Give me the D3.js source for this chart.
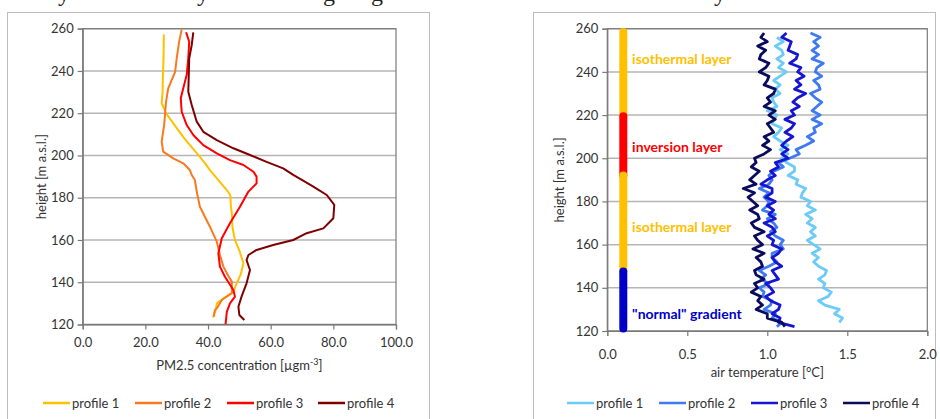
<!DOCTYPE html>
<html>
<head>
<meta charset="utf-8">
<script src="https://cdn.jsdelivr.net/npm/d3@7"></script>
<style>
  html, body { margin: 0; padding: 0; background: #fff; }
  svg { display: block; font-family: Lato, "Open Sans", sans-serif; }
  .tick text { font-family: Lato, sans-serif; font-size: 13px; fill: #333; }
</style>
</head>
<body>
<script>
// ---- data ----
// left panel: PM2.5 profiles (height [m], concentration)
const pmSeries = ["profile 1", "profile 2", "profile 3", "profile 4"];
const pmColors = ["#FFC000", "#F97A1E", "#FF0000", "#7F0000"];

const pm1Height = [257.3, 246, 238, 230, 224.8, 220, 214, 208, 203, 200, 196, 193.1, 188, 184, 181.3, 176, 172.6, 166, 160, 155, 149, 144, 140, 135.5, 133, 130, 127, 123.7, 124.5];
const pm1Value  = [25.9, 25.8, 25.6, 25.5, 25.2, 26.6, 29.5, 32.5, 35.3, 37.0, 39.2, 40.6, 43.5, 45.8, 47.1, 47.3, 47.6, 47.8, 48.6, 50.0, 51.3, 50.5, 49.3, 48.1, 45.5, 42.8, 42.5, 41.7, 42.2];

const pm2Height = [259.7, 254, 246, 239.6, 231.8, 225.4, 214.4, 206.5, 201.8, 198.6, 196.3, 193.1, 190.8, 188.4, 182.9, 175.7, 166.3, 159.2, 153, 147.4, 143, 140.3, 134.8, 131.6, 128, 126.9, 123.7];
const pm2Value  = [31.6, 30.8, 30.0, 29.5, 27.3, 26.6, 26.0, 25.2, 25.7, 28.9, 32.1, 34.2, 34.8, 35.8, 36.4, 37.4, 40.6, 42.8, 43.8, 44.9, 46.5, 47.6, 47.6, 44.4, 43.0, 42.2, 41.8];

const pm3Height = [258.3, 253.8, 246, 238.2, 231.8, 227.1, 220.7, 214.4, 209.7, 204.9, 201, 197.8, 195.5, 192.3, 190, 186.8, 182.9, 175.7, 167.9, 160.8, 153.7, 147.4, 142.6, 136.3, 133.2, 130, 126, 120.2];
const pm3Value  = [33.0, 34.0, 33.7, 33.2, 32.1, 31.3, 31.6, 33.2, 35.3, 38.5, 42.8, 47.0, 51.3, 54.5, 55.5, 55.5, 52.9, 50.2, 47.0, 44.4, 43.3, 43.8, 45.4, 48.1, 48.6, 47.0, 46.0, 45.6];

const pm4Height = [258.3, 252.3, 246, 230.2, 223.9, 216, 211.2, 207.3, 203.4, 200.2, 197, 193.9, 190.8, 188, 185.3, 181.3, 176.6, 170.3, 165.5, 163.2, 160, 157.6, 155.3, 152.9, 150.5, 145.8, 139.5, 133.2, 128.4, 124.5, 122.1];
const pm4Value  = [35.3, 34.8, 34.0, 33.7, 34.8, 36.4, 38.5, 42.8, 48.1, 53.4, 58.7, 64.0, 67.2, 70.5, 73.6, 77.9, 80.3, 80.0, 76.8, 71.5, 67.2, 60.8, 55.5, 52.9, 52.3, 53.4, 52.3, 50.7, 49.7, 50.0, 51.6];

// right panel: air temperature profiles
const tSeries = ["profile 1", "profile 2", "profile 3", "profile 4"];
const tColors = ["#6DCBF7", "#3F7AF2", "#1616D0", "#0B0B5E"];

const tHeight = [122, 124, 126, 128, 130, 132, 134, 136, 138, 140, 142, 144, 146, 148, 150, 152, 154, 156, 158, 160,
  162, 164, 166, 168, 170, 172, 174, 176, 178, 180, 182, 184, 186, 188, 190, 192, 194, 196, 198, 200,
  202, 204, 206, 208, 210, 212, 214, 216, 218, 220, 222, 224, 226, 228, 230, 232, 234, 236, 238, 240,
  242, 244, 246, 248, 250, 252, 254, 256, 258];

const t1Value = [null, 1.45, 1.47, 1.42, 1.45, 1.36, 1.32, 1.38, 1.40, 1.35, 1.36, 1.32, 1.36, 1.37, 1.32, 1.29, 1.32, 1.28, 1.33, 1.29,
  1.25, 1.30, 1.27, 1.30, 1.25, 1.28, 1.24, 1.30, 1.25, 1.27, 1.21, 1.22, 1.24, 1.18, 1.19, 1.13, 1.17, 1.17, 1.12, 1.09,
  1.13, 1.08, 1.13, 1.08, 1.04, 1.07, 1.09, 1.03, 1.04, 1.06, 1.00, 1.06, 1.04, 1.03, 1.08, 1.05, 1.08, 1.04, 1.08, 1.12,
  1.07, 1.10, 1.06, 1.10, 1.09, 1.05, 1.10, 1.06, null];

const t2Value = [1.06, 1.09, 1.03, 1.05, 0.98, 1.02, 1.03, 0.97, 0.98, 0.95, 1.01, 0.96, 0.99, 0.95, 1.01, 1.06, 1.03, 1.03, 1.10, 1.08,
  1.10, 1.05, 1.02, 1.06, 1.04, 1.00, 1.05, 0.97, 1.00, 1.01, 0.98, 1.01, 0.95, 1.01, 1.03, 1.01, 1.04, 1.10, 1.07, 1.14,
  1.20, 1.18, 1.24, 1.29, 1.25, 1.30, 1.29, 1.34, 1.28, 1.33, 1.28, 1.31, 1.34, 1.30, 1.27, 1.33, 1.32, 1.29, 1.34, 1.30,
  1.31, 1.35, 1.28, 1.32, 1.28, 1.32, 1.29, 1.33, 1.27];

const t3Value = [1.17, 1.07, 1.08, 1.03, 1.07, 1.08, 1.02, 0.99, 1.04, 1.02, 0.99, 1.07, 1.05, 1.03, 1.09, 1.05, 1.03, 1.07, 1.09, 1.03,
  1.04, 1.00, 1.05, 1.03, 0.98, 1.05, 1.01, 1.04, 1.00, 1.05, 0.99, 1.03, 1.03, 0.96, 1.00, 1.05, 1.02, 1.07, 1.05, 1.13,
  1.09, 1.13, 1.09, 1.12, 1.16, 1.11, 1.15, 1.17, 1.11, 1.17, 1.15, 1.20, 1.16, 1.19, 1.24, 1.17, 1.21, 1.18, 1.23, 1.19,
  1.21, 1.14, 1.18, 1.19, 1.13, 1.14, 1.15, 1.09, 1.12];

const t4Value = [1.11, 1.09, 1.00, 1.00, 0.93, 0.97, 0.94, 0.96, 0.90, 0.94, 0.92, 0.98, 0.93, 0.92, 0.97, 0.96, 0.93, 0.98, 0.91, 0.97,
  0.94, 0.92, 0.98, 0.92, 0.90, 0.95, 0.94, 0.89, 0.94, 0.91, 0.88, 0.92, 0.85, 0.93, 0.89, 0.92, 0.95, 0.90, 0.93, 0.92,
  0.98, 1.02, 0.97, 1.01, 0.98, 1.04, 1.02, 1.00, 1.05, 1.01, 1.05, 0.98, 1.02, 1.00, 1.04, 1.05, 0.98, 1.00, 1.01, 0.95,
  0.99, 1.01, 0.95, 0.96, 0.99, 0.94, 1.00, 0.96, 0.98];

// stratification bar on the right panel
const layerNames  = ["isothermal layer", "inversion layer", "isothermal layer", "\"normal\" gradient"];
const layerTop    = [258.5, 219.5, 192, 147.5];
const layerBottom = [219.5, 192, 147.5, 121.2];
const layerColor  = ["#FFC000", "#FF0000", "#FFC000", "#0000C8"];
const layerLabelH = [246, 205, 168, 128];
const layerBarT   = 0.1;
const layerLabelT = 0.155;

const heightTicks = [120, 140, 160, 180, 200, 220, 240, 260];
const pmTicks = [0, 20, 40, 60, 80, 100];
const tTicks = [0, 0.5, 1.0, 1.5, 2.0];

// ---- drawing ----
const W = 940, H = 419;
const svg = d3.select("body").append("svg").attr("width", W).attr("height", H);
svg.append("rect").attr("width", W).attr("height", H).attr("fill", "#fff");

// cut-off caption line: only the descenders show at the top edge
const capX = [58, 197, 323, 371, 714];
const capC = ["y", "y", "g", "g", "y"];
svg.append("g").selectAll("text").data(capC).join("text")
  .attr("x", (d, i) => capX[i]).attr("y", 1)
  .attr("font-family", "'Liberation Serif', serif").attr("font-size", 24)
  .attr("fill", "#222").text(d => d);

// panel frames
svg.append("rect").attr("x", 7.5).attr("y", 12.5).attr("width", 422).attr("height", 430)
  .attr("fill", "none").attr("stroke", "#bdbdbd");
svg.append("rect").attr("x", 533.5).attr("y", 12.5).attr("width", 402).attr("height", 430)
  .attr("fill", "none").attr("stroke", "#bdbdbd");

function panel(opt) {
  const x = d3.scaleLinear().domain(opt.xDomain).range([opt.left, opt.right]);
  const y = d3.scaleLinear().domain([120, 260]).range([opt.bottom, opt.top]);
  const g = svg.append("g");

  // gridlines
  g.append("g").selectAll("line").data(heightTicks).join("line")
    .attr("x1", opt.left).attr("x2", opt.right)
    .attr("y1", d => y(d)).attr("y2", d => y(d))
    .attr("stroke", "#b5b5b5").attr("stroke-width", 1.5);

  // frame of plot area
  g.append("rect").attr("x", opt.left).attr("y", opt.top)
    .attr("width", opt.right - opt.left).attr("height", opt.bottom - opt.top)
    .attr("fill", "none").attr("stroke", "#7a7a7a").attr("stroke-width", 1.2);

  const yAxis = g.append("g").attr("transform", `translate(${opt.left},0)`)
    .call(d3.axisLeft(y).tickValues(heightTicks).tickSize(5).tickPadding(4).tickFormat(d3.format("d")));
  const xAxis = g.append("g").attr("transform", `translate(0,${opt.bottom})`)
    .call(d3.axisBottom(x).tickValues(opt.xTicks).tickSize(5).tickPadding(opt.xPad).tickFormat(d3.format(".1f")));
  [yAxis, xAxis].forEach(a => {
    a.select(".domain").attr("stroke", "#7a7a7a").attr("stroke-width", 1.2);
    a.selectAll(".tick line").attr("stroke", "#7a7a7a").attr("stroke-width", 1.2);
  });

  // axis titles
  g.append("text")
    .attr("transform", `translate(${opt.yTitleX},${(opt.top + opt.bottom) / 2}) rotate(-90)`)
    .attr("text-anchor", "middle").attr("font-size", 13).attr("fill", "#333")
    .text("height [m a.s.l.]");
  g.append("text").attr("x", (opt.left + opt.right) / 2).attr("y", opt.xTitleY)
    .attr("text-anchor", "middle").attr("font-size", 13).attr("fill", "#333")
    .html(opt.xTitle);

  return { x, y, g };
}

// left panel
const L = panel({ xDomain: [0, 100], left: 82.7, right: 396, top: 28.7, bottom: 324.5,
  xTicks: pmTicks, xPad: 8, yTitleX: 46, xTitleY: 370,
  xTitle: "PM2.5 concentration [µgm<tspan dy='-5' font-size='9'>-3</tspan><tspan dy='5'>]</tspan>" });

const pmData = [[pm1Height, pm1Value], [pm2Height, pm2Value], [pm3Height, pm3Value], [pm4Height, pm4Value]];
const pmLine = d3.line().x(d => L.x(d[1])).y(d => L.y(d[0]));
pmData.forEach((s, i) => {
  L.g.append("path").datum(d3.zip(s[0], s[1]))
    .attr("d", pmLine).attr("fill", "none")
    .attr("stroke", pmColors[i]).attr("stroke-width", 2).attr("stroke-linejoin", "round");
});

// right panel
const R = panel({ xDomain: [0, 2], left: 607.3, right: 927.3, top: 28.7, bottom: 331,
  xTicks: tTicks, xPad: 14, yTitleX: 564, xTitleY: 377,
  xTitle: "air temperature [°C]" });

// stratification bar
layerNames.forEach((name, i) => {
  R.g.append("line")
    .attr("x1", R.x(layerBarT)).attr("x2", R.x(layerBarT))
    .attr("y1", R.y(layerTop[i])).attr("y2", R.y(layerBottom[i]))
    .attr("stroke", layerColor[i]).attr("stroke-width", 8).attr("stroke-linecap", "round");
});
layerNames.forEach((name, i) => {
  R.g.append("text").attr("x", R.x(layerLabelT)).attr("y", R.y(layerLabelH[i]) + 5)
    .attr("font-size", 14).attr("font-weight", 700).attr("fill", layerColor[i])
    .text(name);
});

const tData = [t1Value, t2Value, t3Value, t4Value];
const tLine = d3.line().defined(d => d[1] != null).x(d => R.x(d[1])).y(d => R.y(d[0]));
tData.forEach((vals, i) => {
  R.g.append("path").datum(d3.zip(tHeight, vals))
    .attr("d", tLine).attr("fill", "none")
    .attr("stroke", tColors[i]).attr("stroke-width", 2.8).attr("stroke-linejoin", "round");
});

// legends
function legend(names, colors, xs, y) {
  const lg = svg.append("g");
  names.forEach((n, i) => {
    lg.append("line").attr("x1", xs[i]).attr("x2", xs[i] + 27).attr("y1", y).attr("y2", y)
      .attr("stroke", colors[i]).attr("stroke-width", 2.5);
    lg.append("text").attr("x", xs[i] + 29).attr("y", y + 5)
      .attr("font-size", 13).attr("fill", "#333").text(n);
  });
}
legend(pmSeries, pmColors, [43, 135, 227, 318], 403);
legend(tSeries, tColors, [567, 659, 751, 843], 403);
</script>
</body>
</html>
